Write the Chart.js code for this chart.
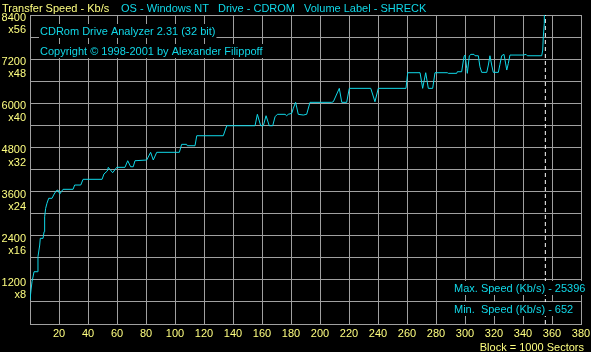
<!DOCTYPE html>
<html>
<head>
<meta charset="utf-8">
<script src="https://cdn.jsdelivr.net/npm/chart.js@4/dist/chart.umd.min.js"></script>
<style>
  html, body { margin: 0; padding: 0; background: #000; }
  canvas { display: block; }
</style>
</head>
<body>
<canvas id="speedChart" width="591" height="352"></canvas>
<script>
// block numbers (x 1000 sectors) and transfer speed in Kb/s
const blocks = [
    0, 0.7, 1.4, 2.8, 5, 5.5, 6.7, 7.1, 9, 9.7,
    10.1, 10.8, 11.7, 12.9, 15.2, 16.3, 18.1, 19.3, 20.5, 21.6,
    22.8, 29.7, 30.8, 35, 36.6, 49.7, 51, 53.3, 54, 57,
    59.8, 65.5, 67.4, 69.4, 71.2, 72.4, 80.5, 83.2, 85, 87.4,
    103, 104.6, 108, 108.5, 113.8, 115, 133.3, 135.7, 155.2, 156.8,
    159.1, 160.9, 162.8, 165, 167.4, 169, 170.6, 175.9, 177, 178.1,
    180.5, 181.6, 183.2, 185, 188.5, 190.8, 193.1, 208.1, 209.2, 213.3,
    215, 218.4, 220.2, 235, 237.9, 240.2, 259.3, 260.5, 269, 270.8,
    272.9, 274.7, 277.7, 279.3, 287.8, 288.5, 294.3, 294.7, 297.7, 298.4,
    299.3, 300, 301.2, 301.6, 303, 304.1, 306.2, 306.9, 309.2, 310.3,
    311.5, 315, 316.1, 317.2, 318.4, 319.5, 323, 324.1, 325.3, 326.9,
    327.6, 328.8, 329.9, 331, 340.2, 342.1, 343, 352.9, 353.6, 354,
    354.7, 355.4
];
const speeds = [
    652, 924, 1150, 1421, 1421, 1829, 2147, 2329, 2329, 2509,
    2916, 3145, 3281, 3417, 3417, 3506, 3623, 3642, 3533, 3596,
    3661, 3661, 3778, 3778, 3933, 3933, 4077, 4159, 4259, 4112,
    4259, 4259, 4438, 4275, 4275, 4438, 4458, 4667, 4458, 4667,
    4667, 4884, 4884, 4846, 4846, 5118, 5118, 5390, 5390, 5700,
    5390, 5390, 5662, 5390, 5390, 5634, 5700, 5700, 5662, 5700,
    5727, 5863, 6026, 5700, 5681, 5700, 6026, 6026, 6042, 6406,
    6026, 6026, 6406, 6406, 6042, 6406, 6406, 6831, 6831, 6406,
    6831, 6406, 6406, 6831, 6831, 6814, 6814, 6858, 6858, 7040,
    7265, 7311, 6950, 6814, 7292, 7330, 7330, 7292, 7292, 6994,
    6841, 6841, 7040, 7292, 7040, 6841, 6841, 7059, 7292, 7330,
    7176, 6904, 7086, 7311, 7311, 7330, 7292, 7292, 7447, 7809,
    8173, 25396
];
const endBlock = 355.4;
const speedMax = 8400;
const blockMax = 380;

const headerItems = [
    ['Transfer Speed - Kb/s', 2, '#ffff80'],
    ['OS - Windows NT', 121, '#10d8e8'],
    ['Drive - CDROM', 218, '#10d8e8'],
    ['Volume Label - SHRECK', 304, '#10d8e8']
];
const infoLines = ['CDRom Drive Analyzer 2.31 (32 bit)', 'Copyright \u00a9 1998-2001 by Alexander Filippoff'];
const statLines = ['Max. Speed (Kb/s) - 25396', 'Min.  Speed (Kb/s) - 652'];

const FONT = '11px "Liberation Sans", Arial, sans-serif';
const GRID = '#a0a0a0';
const CYAN = '#10d8e8';
const YELLOW = '#ffff80';

function boxedText(ctx, text, x, base, color, align) {
    const w = ctx.measureText(text).width;
    const left = align === 'right' ? x - w : x;
    ctx.fillStyle = '#000';
    ctx.fillRect(left - 1, base - 11, w + 2, 14);
    ctx.fillStyle = color;
    ctx.textAlign = 'left';
    ctx.fillText(text, left, base);
}

const textPlugin = {
    id: 'analyzerText',
    afterDraw(chart) {
        const ctx = chart.ctx;
        ctx.save();
        ctx.font = FONT;
        ctx.textBaseline = 'alphabetic';
        headerItems.forEach(([t, x, c]) => {
            ctx.fillStyle = c;
            ctx.fillText(t, x, 12);
        });
        boxedText(ctx, infoLines[0], 40, 35, CYAN);
        boxedText(ctx, infoLines[1], 40, 55, CYAN);
        boxedText(ctx, statLines[0], 454, 292, CYAN);
        boxedText(ctx, statLines[1], 454, 313, CYAN);
        ctx.fillStyle = YELLOW;
        ctx.textAlign = 'right';
        ctx.fillText('Block = 1000 Sectors', 584, 351);
        ctx.restore();
    }
};

function noPad(scale) {
    scale.paddingLeft = 0;
    scale.paddingRight = 0;
    scale.paddingTop = 0;
    scale.paddingBottom = 0;
}

const ctx = document.getElementById('speedChart').getContext('2d');
new Chart(ctx, {
    type: 'line',
    data: {
        datasets: [{
            data: blocks.map((b, i) => ({ x: b, y: speeds[i] })),
            borderColor: CYAN,
            borderWidth: 1,
            pointRadius: 0,
            tension: 0,
            fill: false
        }, {
            data: [{ x: endBlock, y: 0 }, { x: endBlock, y: speedMax }],
            borderColor: '#ffffff',
            borderWidth: 1,
            borderDash: [4, 3],
            pointRadius: 0,
            fill: false
        }]
    },
    options: {
        responsive: false,
        animation: false,
        events: [],
        layout: { padding: { top: 15, right: 10, left: 0, bottom: 0 } },
        plugins: {
            legend: { display: false },
            tooltip: { enabled: false }
        },
        scales: {
            x: {
                type: 'linear',
                min: 0,
                max: blockMax,
                grid: { color: GRID, lineWidth: 1, drawTicks: false },
                border: { display: true, color: GRID },
                ticks: {
                    stepSize: 20,
                    autoSkip: false,
                    maxRotation: 0,
                    padding: 3,
                    color: YELLOW,
                    font: { family: '"Liberation Sans", Arial, sans-serif', size: 11 },
                    callback: v => v === 0 ? '' : String(v)
                },
                afterFit: s => { s.height = 28; noPad(s); }
            },
            y: {
                min: 0,
                max: speedMax,
                grid: { color: GRID, lineWidth: 1, drawTicks: false },
                border: { display: true, color: GRID },
                ticks: {
                    stepSize: 600,
                    autoSkip: false,
                    padding: 4,
                    labelOffset: 9,
                    color: YELLOW,
                    font: { family: '"Liberation Sans", Arial, sans-serif', size: 11, lineHeight: 1.1 },
                    callback: v => (v > 0 && v % 1200 === 0) ? [String(v), 'x' + (v / 150)] : ''
                },
                afterFit: s => { s.width = 30; noPad(s); }
            }
        }
    },
    plugins: [textPlugin]
});
</script>
</body>
</html>
